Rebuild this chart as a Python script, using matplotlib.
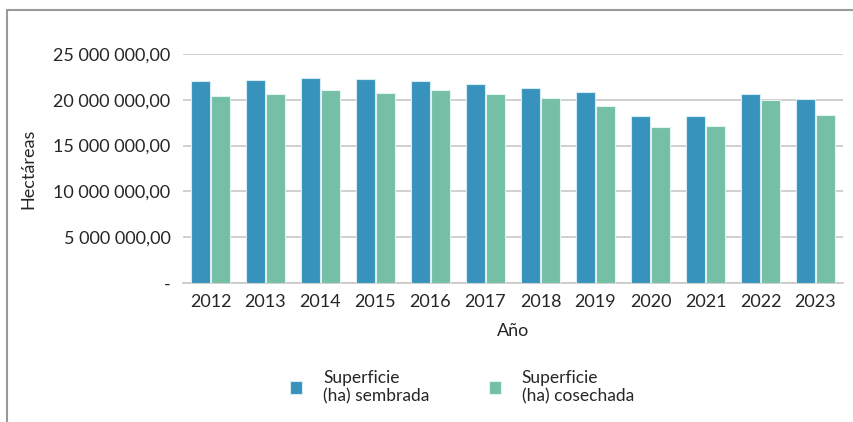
import matplotlib.pyplot as plt
import numpy as np
from matplotlib.patches import Rectangle

years = ["2012", "2013", "2014", "2015", "2016", "2017", "2018", "2019", "2020", "2021", "2022", "2023"]
sembrada = [22.0, 22.2, 22.35, 22.27, 22.05, 21.7, 21.3, 20.8, 18.27, 18.27, 20.67, 20.12]
cosechada = [20.45, 20.6, 21.1, 20.74, 21.1, 20.67, 20.16, 19.29, 17.0, 17.14, 19.98, 18.3]
sembrada = [v * 1e6 for v in sembrada]
cosechada = [v * 1e6 for v in cosechada]
yticks = [0, 5e6, 10e6, 15e6, 20e6, 25e6]
ytick_labels = ["-", "5 000 000,00", "10 000 000,00", "15 000 000,00", "20 000 000,00", "25 000 000,00"]

plt.rcParams['font.family'] = ['Lato', 'DejaVu Sans']
txt = '#262626'

W, H = 854, 422
fig = plt.figure(figsize=(W / 100, H / 100), dpi=100)
ax = fig.add_axes([183 / W, 1 - 283 / H, 660 / W, (283 - 54) / H])

x = np.arange(len(years))
w = 0.34
ax.bar(x - 0.18, sembrada, w, color='#3793BB', edgecolor='#d6ecf3', linewidth=0.8,
       label='Superficie\n(ha) sembrada', zorder=3)
ax.bar(x + 0.18, cosechada, w, color='#74BFA6', edgecolor='#e3f3ed', linewidth=0.8,
       label='Superficie\n(ha) cosechada', zorder=3)

ax.set_xlim(-0.5, len(years) - 0.5)
ax.set_ylim(0, 25e6)
ax.set_yticks(yticks)
ax.set_yticklabels(ytick_labels, fontsize=13, color=txt)
ax.set_xticks(x)
ax.set_xticklabels(years, fontsize=13, color=txt)
ax.tick_params(length=0)
ax.tick_params(axis='y', pad=9)
ax.tick_params(axis='x', pad=8)
ax.yaxis.grid(True, color='#c8c8c8', linewidth=1.2, zorder=0)
for s in ['top', 'right', 'left']:
    ax.spines[s].set_visible(False)
ax.spines['bottom'].set_color('#c8c8c8')
ax.spines['bottom'].set_linewidth(1.2)
ax.set_axisbelow(True)

ax.set_ylabel('Hectáreas', fontsize=13, color=txt, labelpad=12)
ax.set_xlabel('Año', fontsize=13, color=txt, labelpad=9)

fig.legend(loc='center', bbox_to_anchor=(462 / W, 1 - 387 / H), ncol=2, frameon=False,
           fontsize=12.5, handlelength=0.7, handleheight=0.7, columnspacing=3.4,
           handletextpad=1.2, labelcolor=txt, labelspacing=0.2)

fig.patches.append(Rectangle((7 / W, -0.1), 2, 1 - 10 / H + 0.1, transform=fig.transFigure,
                             fill=False, edgecolor='#9a9a9a', linewidth=1.5))

fig.savefig('out.png', dpi=100)
